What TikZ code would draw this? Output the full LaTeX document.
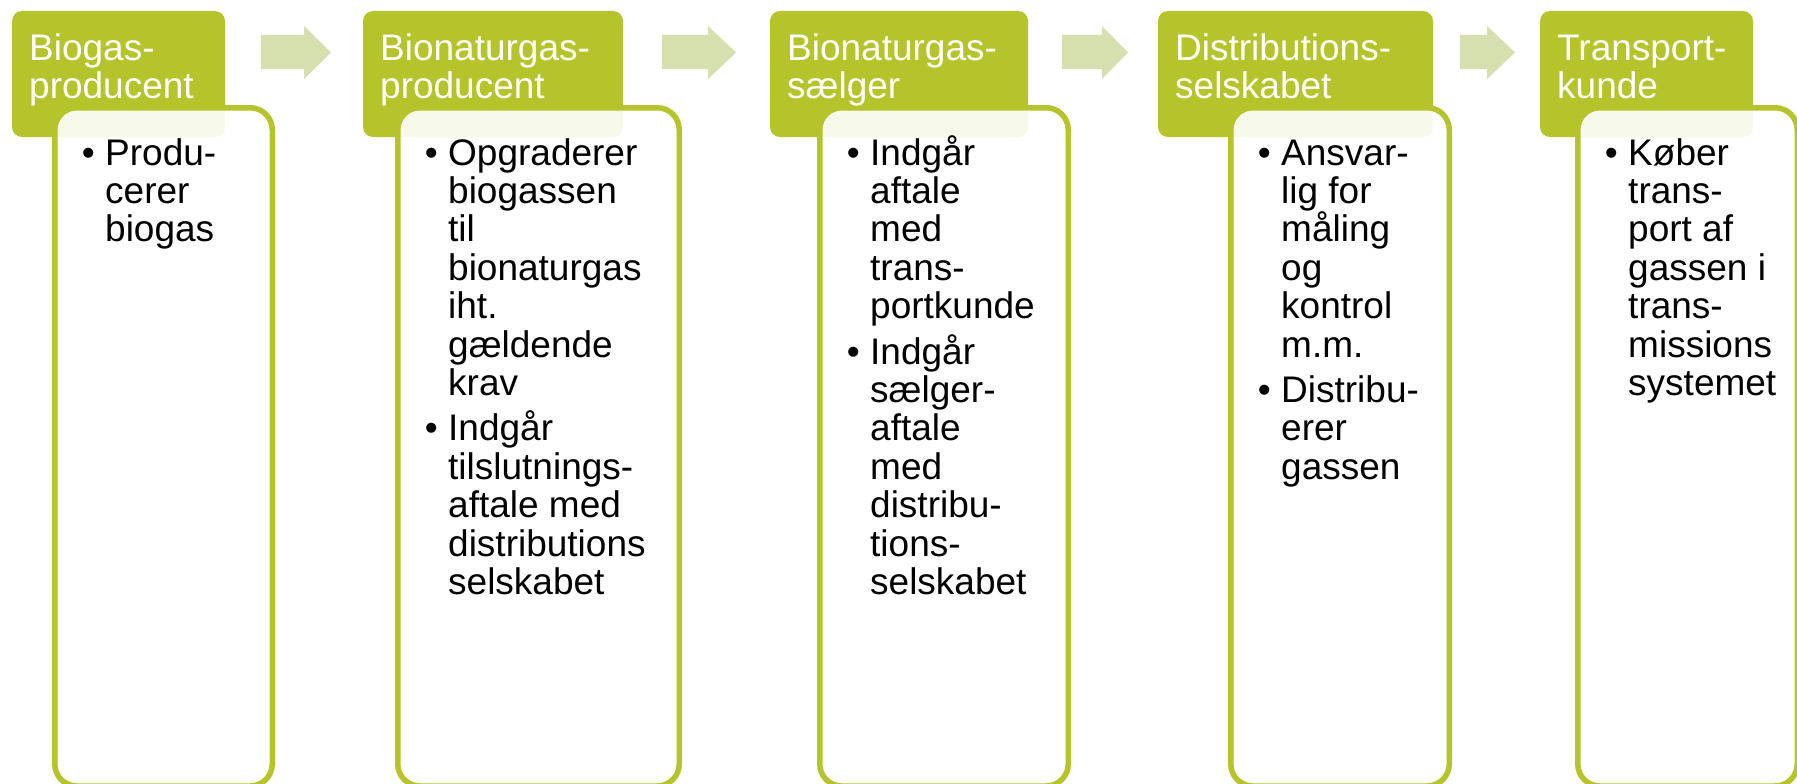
\documentclass[tikz,border=0pt]{standalone}
\usepackage{fontspec}
\setmainfont{Liberation Sans}
\definecolor{lime}{RGB}{181,196,43}
\definecolor{arrowc}{RGB}{214,223,174}
\newcommand\blines[1]{\vtop{\baselineskip=38.4pt\lineskiplimit=-100pt\lineskip=0pt\halign{##\hfil\cr#1\crcr}}}
\newcommand\barrow[3]{\fill[arr] (#1,35) -- (#2,35) -- (#2,26) -- (#3,52.5) -- (#2,79) -- (#2,69) -- (#1,69) -- cycle;}
\tikzset{
  headbox/.style={fill=lime, rounded corners=10pt},
  panel/.style={draw=lime, line width=5.5pt, fill=white, fill opacity=0.9, rounded corners=22pt},
  htext/.style={anchor=base west, inner sep=0pt, text=white, font=\fontsize{37}{38.4}\selectfont},
  btext/.style={anchor=base west, inner sep=0pt, text=black, font=\fontsize{37}{38.4}\selectfont},
  arr/.style={fill=arrowc}
}
\begin{document}
\begin{tikzpicture}[x=1pt,y=-1pt]
\useasboundingbox (0,0) rectangle (1797,784);
\fill[white] (0,0) rectangle (1797,784);
% headers
\fill[headbox] (12,11) rectangle (225,137);
\fill[headbox] (363,11) rectangle (623,137);
\fill[headbox] (770,11) rectangle (1028,137);
\fill[headbox] (1158,11) rectangle (1433,137);
\fill[headbox] (1540,11) rectangle (1753,137);
% panels
\draw[panel] (54.75,107.75) rectangle (272.25,786);
\draw[panel] (397.75,107.75) rectangle (679.25,786);
\draw[panel] (819.75,107.75) rectangle (1068.25,786);
\draw[panel] (1230.75,107.75) rectangle (1449.25,786);
\draw[panel] (1577.75,107.75) rectangle (1797.25,786);
% arrows
\barrow{261}{304}{331}
\barrow{662}{708}{736}
\barrow{1062}{1102}{1128}
\barrow{1460}{1487}{1515}
% header texts
\node[htext] (h1) at (29,60) {\blines{Biogas-\cr producent}};
\node[htext] (h2) at (380,60) {\blines{Bionaturgas-\cr producent}};
\node[htext] (h3) at (787,60) {\blines{Bionaturgas-\cr sælger}};
\node[htext] (h4) at (1175,60) {\blines{Distributions-\cr selskabet}};
\node[htext] (h5) at (1557,60) {\blines{Transport-\cr kunde}};
% block 1
\node[btext] (d1a) at (81.7,165) {•};
\node[btext] (t1a) at (105,165) {\blines{Produ-\cr cerer\cr biogas}};
% block 2
\node[btext] (d2a) at (424.7,165) {•};
\node[btext] (t2a) at (448,165) {\blines{Opgraderer\cr biogassen\cr til\cr bionaturgas\cr iht.\cr gældende\cr krav}};
\node[btext] (d2b) at (424.7,440.9) {•};
\node[btext] (t2b) at (448,440.9) {\blines{Indgår\cr tilslutnings-\cr aftale med\cr distributions\cr selskabet}};
% block 3
\node[btext] (d3a) at (846.7,165) {•};
\node[btext] (t3a) at (870,165) {\blines{Indgår\cr aftale\cr med\cr trans-\cr portkunde}};
\node[btext] (d3b) at (846.7,364.1) {•};
\node[btext] (t3b) at (870,364.1) {\blines{Indgår\cr sælger-\cr aftale\cr med\cr distribu-\cr tions-\cr selskabet}};
% block 4
\node[btext] (d4a) at (1257.7,165) {•};
\node[btext] (t4a) at (1281,165) {\blines{Ansvar-\cr lig for\cr måling\cr og\cr kontrol\cr m.m.}};
\node[btext] (d4b) at (1257.7,402.5) {•};
\node[btext] (t4b) at (1281,402.5) {\blines{Distribu-\cr erer\cr gassen}};
% block 5
\node[btext] (d5a) at (1604.7,165) {•};
\node[btext] (t5a) at (1628,165) {\blines{Køber\cr trans-\cr port af\cr gassen i\cr trans-\cr missions\cr systemet}};
\end{tikzpicture}
\end{document}
